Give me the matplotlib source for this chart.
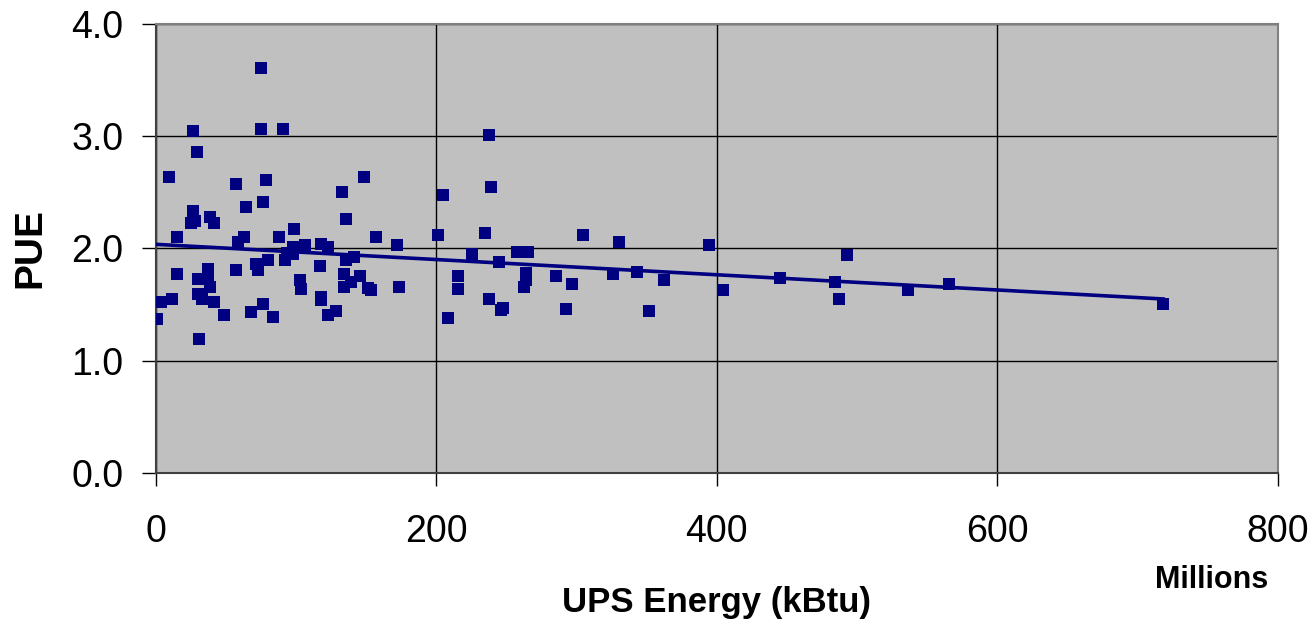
import numpy as np
import matplotlib.pyplot as plt

plt.rcParams['font.family'] = ['Liberation Sans', 'DejaVu Sans']

# UPS energy (millions of kBtu) and PUE per facility
ups_energy = [0.7, 3.6, 9.5, 11.8, 15.2, 15.2, 25.1, 26.8, 26.8, 28.0, 29.6, 29.9, 30.3,
              31.0, 32.8, 37.0, 37.0, 38.4, 38.5, 41.3, 41.3, 48.6, 57.2, 57.2, 58.4,
              63.1, 64.3, 67.6, 71.4, 73.1, 74.8, 74.8, 76.2, 76.2, 79.0, 80.2, 83.3,
              87.8, 90.6, 92.1, 93.3, 97.6, 98.0, 98.7, 102.7, 103.7, 106.5, 116.8,
              118.2, 118.2, 118.2, 122.9, 122.9, 128.4, 132.9, 134.3, 134.3, 135.7,
              135.7, 139.1, 141.7, 145.7, 148.8, 151.7, 153.3, 157.4, 172.0, 173.5,
              201.0, 205.1, 208.4, 215.8, 215.8, 225.7, 234.5, 237.6, 237.6, 238.8,
              244.7, 246.4, 247.5, 257.8, 262.3, 263.7, 263.7, 265.4, 285.3, 292.7,
              296.9, 304.3, 326.2, 330.4, 343.4, 352.0, 362.4, 394.2, 404.2, 445.1,
              484.4, 487.3, 493.0, 536.6, 565.6, 718.2]
pue = [1.37, 1.52, 2.64, 1.55, 2.10, 1.77, 2.23, 3.05, 2.33, 2.24, 2.86, 1.59, 1.73,
       1.19, 1.55, 1.82, 1.73, 2.28, 1.66, 2.23, 1.52, 1.41, 2.57, 1.81, 2.06,
       2.10, 2.37, 1.43, 1.86, 1.81, 3.61, 3.06, 2.41, 1.50, 2.61, 1.90, 1.39,
       2.10, 3.06, 1.90, 1.96, 2.01, 1.95, 2.17, 1.72, 1.64, 2.03, 1.84,
       2.04, 1.57, 1.54, 2.01, 1.41, 1.44, 2.50, 1.77, 1.66, 2.26,
       1.90, 1.70, 1.92, 1.75, 2.64, 1.65, 1.63, 2.10, 2.03, 1.66,
       2.12, 2.48, 1.38, 1.75, 1.64, 1.95, 2.14, 3.01, 1.55, 2.55,
       1.88, 1.45, 1.47, 1.97, 1.66, 1.78, 1.72, 1.97, 1.75, 1.46,
       1.68, 2.12, 1.77, 2.06, 1.79, 1.44, 1.72, 2.03, 1.63, 1.74,
       1.70, 1.55, 1.94, 1.63, 1.68, 1.50]

x = np.array(ups_energy)
y = np.array(pue)
slope, intercept = np.polyfit(x, y, 1)
xfit = np.array([0, x.max()])

navy = '#000080'
fig = plt.figure(figsize=(13.16, 6.32), dpi=100)
ax = fig.add_axes([0.1183, 0.252, 0.8527, 0.710])
ax.set_facecolor('#c0c0c0')

ax.scatter(x, y, marker='s', s=80, color=navy, zorder=3, linewidths=0)
ax.plot(xfit, slope * xfit + intercept, color=navy, lw=2.6, zorder=4)

ax.set_xlim(0, 800)
ax.set_ylim(0, 4)
ax.set_xticks([0, 200, 400, 600, 800])
ax.set_yticks([0, 1, 2, 3, 4])
ax.set_yticklabels(['0.0', '1.0', '2.0', '3.0', '4.0'])
ax.grid(True, color='black', lw=1.0, zorder=1)
ax.set_axisbelow(True)
for s in ax.spines.values():
    s.set_color('#808080')
    s.set_linewidth(1.5)
ax.spines['left'].set_color('#404040')
ax.spines['bottom'].set_color('#404040')

ax.tick_params(axis='y', direction='out', length=10, width=1, color='black',
               labelsize=27, pad=13)
ax.tick_params(axis='x', direction='out', length=9, width=1, color='black',
               labelsize=27, pad=21)

ax.set_ylabel('PUE', fontsize=28, fontweight='bold', va='center')
ax.yaxis.set_label_coords(-0.112, 0.5)
ax.set_xlabel('UPS Energy (kBtu)', fontsize=25, fontweight='bold', va='baseline')
ax.xaxis.set_label_coords(0.5, -0.31)
fig.text(0.921, 0.082, 'Millions', fontsize=22, fontweight='bold', ha='center', va='center')

fig.savefig('out.png', dpi=100)
